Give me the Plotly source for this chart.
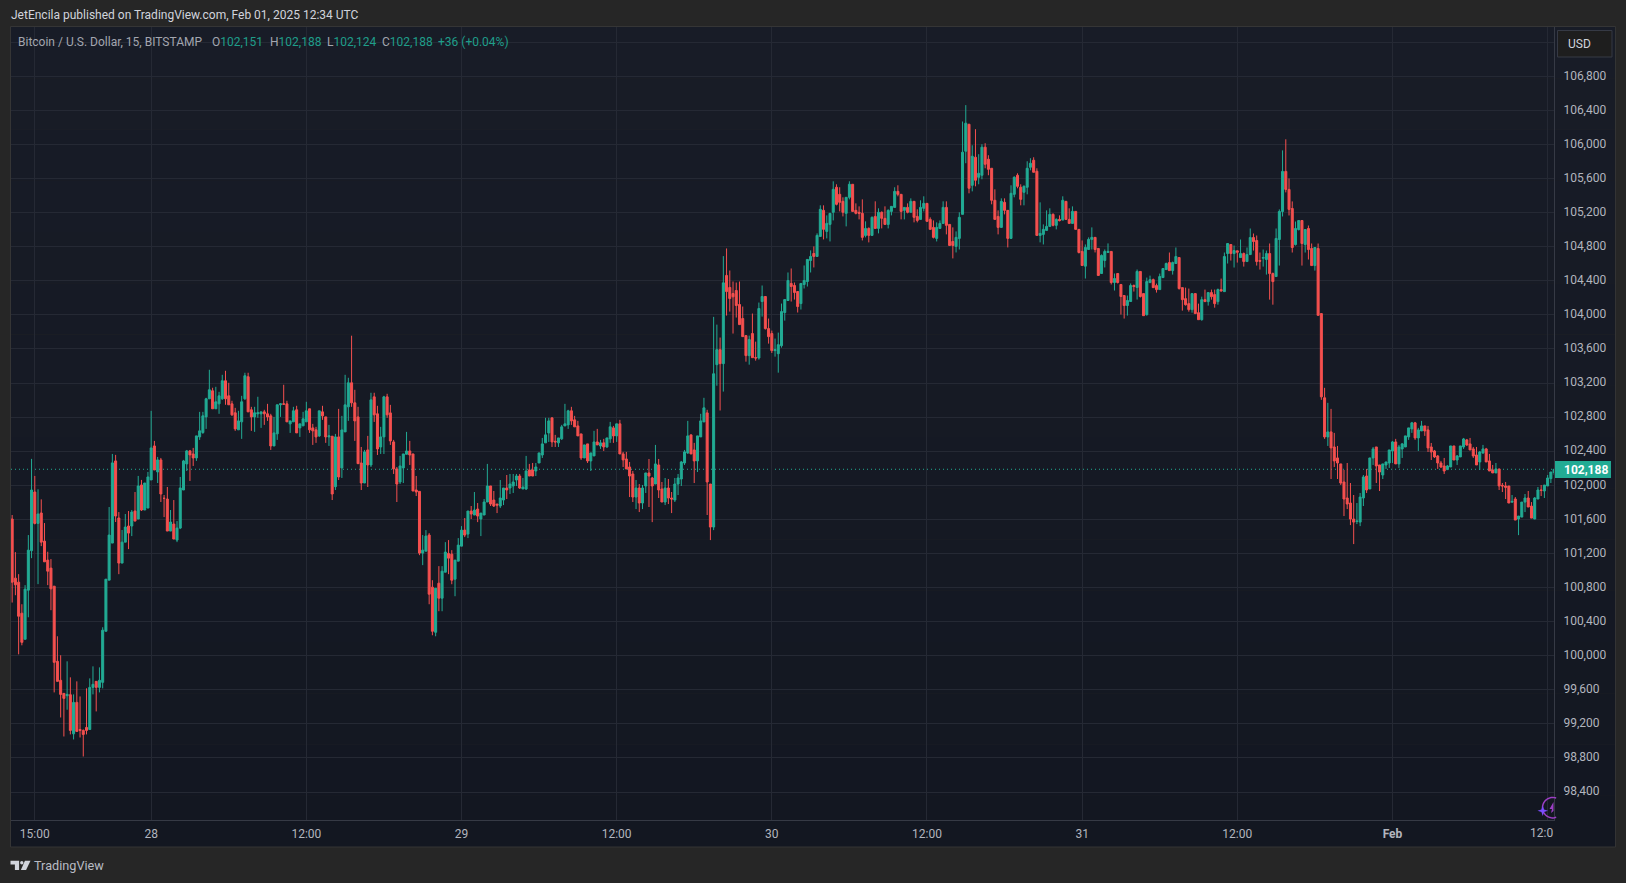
import numpy as np
import pandas as pd
import plotly.graph_objects as go

# BTC/USD 15-minute candles (USD)
opens = [
101604,100910,100863,100499,100193,100769,101232,101921,101553,101675,101345,101122,101028,100816,99934,99711,99558,99530,99542,99083,99452,99134,99123,99158,99134,99628,99699,99628,99687,100287,100887,101322,102286,101616,101087,101333,101522,101522,101698,101604,102004,101710,101733,
102063,102462,102157,102298,101847,101839,101463,101545,101357,101498,101945,102251,102404,102368,102321,102568,102619,102803,103015,103109,102898,102956,103015,103227,103050,102956,102851,102651,102745,103015,103274,102886,102803,102839,102839,102862,102839,102815,102462,102604,102945,102956,102956,102721,102745,102886,102674,102698,102745,102898,102674,102651,102580,
102862,102803,102568,102576,101984,102568,102204,102627,102921,103203,102968,102803,102262,102027,102415,102239,103038,102839,102450,102568,103038,102850,102509,102192,102039,102204,102364,102403,102368,101945,101929,101204,101227,101416,100804,100275,100851,100675,100980,101200,101192,100898,101110,101286,101474,101427,101698,101651,101721,101604,101651,101804,101992,101827,101780,101757,101827,101968,101968,101992,102062,102109,101957,101957,102180,102180,102168,102262,102356,102498,102615,102792,102517,102498,102545,102697,102709,102874,102768,102697,102603,102321,102486,102286,102345,102509,102462,102498,102450,102545,102674,102580,102721,102368,102309,102215,102133,101862,101968,101792,101992,102145,102086,102015,102239,101957,101804,101968,101851,101827,102015,102074,102262,102380,102592,102415,102286,102568,102744,102850,102015,101510,
103416,103592,103428,104463,104322,104251,104286,104122,103957,103757,103522,103781,103498,103494,104157,104216,103839,103781,103581,103545,103639,104028,104169,104369,104345,104274,104133,104357,104392,104639,104721,104686,104921,105227,104980,105062,105204,105498,105415,105333,105192,105380,105533,105227,105204,105192,104933,105015,104933,105156,105015,105204,105133,105062,105215,105262,105450,105415,105227,105262,105204,105333,105156,105121,105251,105309,105121,105027,104898,105015,105074,105262,105062,104862,104804,104898,105180,105921,106238,105521,105850,105615,105639,105968,105827,105721,105345,105156,105027,105321,105227,104898,105415,105639,105498,105439,105498,105733,105815,105686,104933,104945,104992,105039,105180,105051,105121,105113,105333,105121,105074,105215,105004,104745,104572,104768,104886,104910,104780,104486,104639,104733,104745,104380,104486,104357,104227,104110,104157,104345,104322,104510,
104250,104003,104379,104414,104344,104297,104438,104532,104614,104520,104603,104673,104320,104191,104132,104062,104250,104026,103944,104179,104156,104262,104238,104156,104297,104273,104720,104826,104720,104752,104673,104720,104626,104708,104908,104873,104638,104665,104650,104720,104485,104450,104885,105214,105684,105473,105249,104826,105002,105108,104826,105014,104779,104579,104779,104015,103027,102568,102627,102450,102321,102251,102039,101851,101792,101604,101576,101568,101851,102109,101957,102321,102450,102239,102121,102239,102262,102403,102509,102251,
102427,102450,102568,102662,102733,102556,102638,102697,102650,102450,102403,102344,102262,102227,102184,102215,102462,102297,102333,102450,102533,102486,102427,102356,102274,102380,102427,102286,102180,102145,102192,101999,101992,101992,101803,101839,101604,101627,101803,101851,101756,101604,101839,101945,101933,101992,102078,102151,
]
highs = [
101651,101216,100957,100604,100828,101416,102310,102110,101953,101835,101557,101220,101134,100816,100228,100005,99558,99934,99746,99546,99699,99522,99134,99617,99734,99875,99699,99863,100334,100898,101745,102368,102357,101686,101475,101663,101698,101710,101921,102110,102063,102027,102157,
102874,102521,102333,102321,101886,101980,101710,101827,101580,102098,102298,102415,102415,102439,102580,102862,102862,103027,103356,103145,103156,103097,103297,103344,103203,102992,102909,102874,103050,103321,103321,102921,102921,103039,102862,102886,102956,102839,102803,102945,102956,103180,102992,102756,102921,102933,102721,102862,102980,102898,102721,102686,102874,
102933,102803,102709,102576,102603,102897,102815,103297,103262,103756,103121,102921,102450,102415,102580,103086,103086,102933,102686,103050,103074,102944,102533,102215,102345,102368,102627,102521,102368,102109,101929,101416,101474,101439,100886,100792,101051,101051,101333,101357,101239,101122,101380,101521,101616,101698,101757,101921,101792,101674,101839,102251,101992,101933,101780,102062,101968,102121,102133,102133,102133,102133,102086,102345,102251,102262,102262,102380,102556,102792,102792,102792,102592,102556,102709,102956,102886,102921,102815,102756,102603,102474,102486,102380,102639,102662,102533,102545,102556,102744,102697,102721,102768,102392,102392,102274,102168,102062,102015,102004,102145,102309,102098,102474,102309,102039,102086,102074,101921,102086,102133,102286,102415,102756,102592,102498,102580,102839,103027,102886,102015,103977,
103886,103734,104690,104780,104521,104392,104380,104392,104098,103757,103757,104016,103686,104145,104345,104216,103957,103816,103722,103792,104133,104180,104498,104545,104380,104274,104369,104580,104651,104757,104804,104957,105286,105286,105168,105192,105568,105533,105498,105380,105380,105568,105533,105309,105274,105356,105098,105027,105156,105333,105251,105215,105274,105239,105274,105498,105521,105415,105262,105309,105368,105333,105239,105345,105392,105309,105145,105109,105086,105109,105333,105333,105062,105027,104980,105204,106270,106462,106238,105991,106180,105886,106003,106015,105874,105721,105474,105227,105368,105368,105227,105521,105627,105662,105533,105521,105803,105839,105850,105721,105321,105062,105227,105251,105192,105133,105168,105392,105333,105251,105274,105215,105004,104874,104827,104910,105027,104910,104780,104710,104768,104839,104745,104486,104486,104357,104227,104227,104369,104357,104533,104510,
104250,104438,104461,104426,104367,104485,104544,104614,104732,104626,104791,104673,104320,104320,104309,104250,104250,104132,104214,104297,104262,104297,104297,104309,104426,104732,104838,104826,104814,104755,104885,104732,104791,105014,104955,104932,104732,104767,104755,104838,104497,105014,105238,105931,106061,105602,105332,105096,105108,105108,105002,105049,104838,104791,104838,104015,103144,102968,102897,102615,102462,102251,102180,102262,102027,101886,101792,101910,102121,102192,102321,102450,102450,102239,102251,102274,102415,102521,102545,102474,
102497,102580,102674,102744,102744,102674,102756,102697,102697,102497,102415,102356,102286,102321,102239,102462,102462,102356,102462,102556,102544,102556,102450,102450,102403,102474,102439,102368,102239,102262,102192,102027,102039,101992,101886,101862,101639,101803,101898,101933,101803,101862,101980,102003,102003,102121,102156,102188,
]
lows = [
100624,100710,100016,100122,100193,100451,101145,101541,100840,101286,101102,100828,100534,99569,99699,99275,99052,99366,99076,99017,99111,99040,98817,99076,99134,99546,99346,99569,99617,100287,100887,101322,101569,100957,101087,101333,101251,101404,101580,101604,101698,101710,101733,
102063,102180,102027,101804,101627,101463,101463,101369,101333,101486,101945,102168,102051,102227,102286,102533,102604,102662,103015,102898,102898,102839,103003,102945,102945,102815,102639,102651,102545,103003,102862,102639,102627,102792,102674,102709,102756,102415,102462,102533,102803,102945,102745,102615,102745,102615,102568,102698,102745,102615,102474,102498,102568,
102768,102498,102462,101827,101945,102062,102086,102627,102756,102921,102521,102254,101945,102027,101980,102215,102744,102356,102368,102368,102792,102474,102133,101804,102015,102027,102364,102239,101933,101874,101180,101063,101227,100604,100240,100228,100522,100522,100980,100957,100839,100698,101110,101286,101392,101380,101604,101651,101568,101404,101651,101804,101757,101745,101674,101733,101768,101839,101898,101910,101992,101957,101957,101945,102109,102109,102109,102262,102321,102498,102509,102450,102450,102450,102533,102697,102662,102709,102686,102580,102298,102321,102262,102168,102345,102474,102427,102403,102439,102498,102498,102509,102368,102215,102192,101862,101804,101721,101686,101721,101910,101745,101568,102015,101851,101804,101768,101780,101674,101804,101886,101992,102239,102368,102368,102027,102156,102568,102744,101651,101357,101474,
103169,102878,103100,103992,104039,103781,103969,103886,103745,103451,103416,103498,103463,103475,103980,103828,103663,103553,103510,103322,103616,103933,104169,104157,104180,104028,104063,104310,104333,104498,104557,104686,104921,104886,104898,104862,105109,105286,105215,105156,105039,105356,105215,105180,105121,104874,104910,104851,104933,105015,104957,105015,105062,105015,105168,105262,105392,105121,105121,105192,105204,105086,105086,105121,105215,105098,105004,104898,104862,105015,105074,104945,104815,104663,104733,104768,105180,105780,105427,105450,105509,105533,105592,105721,105639,105298,105121,104945,105027,105180,104792,104898,105380,105486,105286,105286,105415,105697,105674,104933,104851,104827,104992,105039,105039,105004,105098,105113,105121,105074,105074,105004,104721,104580,104427,104768,104768,104733,104463,104486,104557,104733,104357,104286,104369,104004,103957,103992,104157,104274,104180,104204,
103991,103991,104379,104320,104262,104297,104438,104532,104520,104473,104603,104297,104050,104109,104038,104026,104015,103944,103932,104156,104109,104179,104085,104120,104273,104273,104603,104638,104556,104614,104673,104567,104626,104708,104755,104579,104532,104567,104473,104179,104120,104450,104579,105155,105438,105167,104732,104814,104991,104579,104732,104650,104579,104520,103995,103003,102545,102462,102074,102215,102074,102004,101639,101721,101533,101310,101545,101521,101757,101910,101957,102239,102027,101933,102074,102192,102204,102262,102251,102204,
102321,102450,102533,102615,102533,102403,102638,102580,102391,102297,102321,102192,102203,102133,102184,102215,102297,102239,102333,102427,102462,102415,102321,102239,102180,102368,102274,102168,102145,102145,101945,101921,101839,101792,101792,101592,101415,101627,101686,101745,101615,101604,101839,101874,101851,101992,102027,102124,
]
closes = [
100863,100832,100463,100157,100781,101239,101945,101553,101663,101333,101102,100992,100785,99922,99699,99546,99499,99546,99123,99452,99111,99123,99076,99123,99628,99664,99628,99711,100299,100898,101416,102263,101639,101087,101333,101510,101439,101686,101580,101992,101710,102027,102098,
102439,102180,102298,101898,101847,101463,101569,101369,101498,101969,102286,102404,102357,102321,102580,102639,102815,103015,103121,102898,102980,103050,103227,103015,102945,102827,102662,102756,102980,103286,102862,102803,102851,102851,102862,102839,102803,102462,102615,102945,102956,102952,102745,102756,102874,102615,102721,102780,102874,102651,102639,102568,102874,
102815,102568,102580,101898,102568,102098,102650,102944,103203,102968,102756,102254,102027,102392,102239,103003,102827,102427,102568,103038,102827,102521,102192,102015,102227,102368,102403,102356,101933,101921,101204,101239,101404,100722,100287,100792,100675,100992,101216,101145,100886,101122,101298,101474,101416,101698,101663,101710,101639,101674,101804,101992,101780,101757,101768,101851,101968,101945,102015,102039,102109,101968,101980,102168,102109,102109,102215,102380,102486,102592,102756,102509,102509,102556,102686,102721,102874,102756,102686,102580,102321,102474,102286,102380,102509,102474,102498,102450,102556,102686,102580,102721,102368,102298,102192,102109,101862,101968,101792,101968,102145,102109,101992,102251,101945,101804,101968,101851,101839,102015,102086,102274,102392,102580,102368,102286,102580,102756,102909,102039,101510,103309,
103592,103428,104376,104274,104192,104212,104110,103886,103745,103522,103710,103498,103494,104075,104216,103839,103745,103581,103592,103651,104039,104180,104404,104333,104263,104098,104369,104404,104651,104686,104686,104933,105239,105004,105074,105192,105474,105298,105321,105204,105380,105533,105215,105192,105192,104910,105015,104933,105145,105015,105204,105133,105062,105227,105274,105450,105415,105215,105262,105204,105333,105145,105109,105262,105309,105098,105004,104910,105027,105074,105262,105051,104815,104815,104910,105145,105909,106250,105486,105862,105580,105662,105968,105768,105709,105345,105121,105027,105333,105227,104898,105427,105615,105509,105356,105509,105721,105780,105674,104933,104957,105004,105039,105180,105051,105121,105106,105345,105121,105074,105215,105004,104733,104580,104792,104886,104910,104768,104463,104698,104745,104745,104380,104427,104380,104216,104110,104169,104345,104333,104510,104216,
103991,104391,104414,104320,104297,104450,104544,104603,104520,104614,104685,104309,104179,104120,104062,104250,104015,103944,104179,104156,104262,104214,104132,104297,104281,104685,104838,104720,104755,104736,104720,104626,104708,104908,104861,104626,104630,104673,104720,104485,104391,104897,105214,105684,105473,105238,104791,105014,105108,104838,105002,104767,104579,104791,103995,103038,102568,102627,102439,102286,102262,102027,101839,101780,101604,101568,101580,101862,102098,101945,102321,102427,102227,102156,102251,102274,102415,102509,102251,102450,
102486,102580,102674,102733,102556,102650,102697,102638,102439,102391,102333,102262,102215,102168,102227,102462,102297,102344,102462,102544,102474,102415,102344,102239,102391,102427,102274,102168,102145,102192,101992,101992,101976,101792,101811,101592,101639,101803,101851,101745,101615,101851,101945,101941,102003,102086,102156,102188,
]

first_bar = "2025-01-27 13:15"
bar_minutes = 15
last_price = 102188

price_ticks = [107200, 106800, 106400, 106000, 105600, 105200, 104800, 104400, 104000, 103600, 103200,
               102800, 102400, 102000, 101600, 101200, 100800, 100400, 100000, 99600, 99200, 98800, 98400]
price_labels = ["", "106,800", "106,400", "106,000", "105,600", "105,200", "104,800", "104,400", "104,000",
                "103,600", "103,200", "102,800", "102,400", "102,000", "101,600", "101,200", "100,800",
                "100,400", "100,000", "99,600", "99,200", "98,800", "98,400"]
time_ticks = ["2025-01-27 15:00", "2025-01-28 00:00", "2025-01-28 12:00", "2025-01-29 00:00", "2025-01-29 12:00",
              "2025-01-30 00:00", "2025-01-30 12:00", "2025-01-31 00:00", "2025-01-31 12:00", "2025-02-01 00:00",
              "2025-02-01 12:00"]
time_labels = ["15:00", "28", "12:00", "29", "12:00", "30", "12:00", "31", "12:00", "<b>Feb</b>", ""]

# layout geometry, in page pixels
W, H = 1626, 883
L, R, T, B = 10.5, 1554.0, 27.0, 820.0
px = lambda x: (x - L) / (R - L)
py = lambda y: (B - y) / (B - T)

FONT = "Roboto"
OUTER = "#262626"
GRID = "#252934"
AXIS = "#363a45"
UP = "#22ab94"
DOWN = "#f5504f"
TXT = "#b2b5be"

times = pd.date_range(first_bar, periods=len(closes), freq=f"{bar_minutes}min")
t0 = times[0]
x_range = [t0 + pd.Timedelta(minutes=bar_minutes * -0.36), t0 + pd.Timedelta(minutes=bar_minutes * 476.97)]
y_low = 102000 - (B - 485.3) / 0.0852
y_high = 102000 + (485.3 - T) / 0.0852

fig = go.Figure(go.Candlestick(
    x=times, open=opens, high=highs, low=lows, close=closes,
    increasing=dict(line=dict(color=UP, width=1), fillcolor=UP),
    decreasing=dict(line=dict(color=DOWN, width=1), fillcolor=DOWN),
    whiskerwidth=0, hoverinfo="skip", showlegend=False,
))

shapes = []
# panel with its faint vertical gradient
n_strips = 16
c0, c1 = np.array([24, 28, 39]), np.array([19, 23, 33])
for k in range(n_strips):
    y0 = T + (847 - T) * k / n_strips
    y1 = T + (847 - T) * (k + 1) / n_strips
    c = c0 + (c1 - c0) * (k + 0.5) / n_strips
    shapes.append(dict(type="rect", xref="paper", yref="paper", x0=px(L), x1=px(1615.5), y0=py(y0), y1=py(y1),
                       fillcolor=f"rgb({c[0]:.0f},{c[1]:.0f},{c[2]:.0f})", line=dict(width=0), layer="below"))
shapes.append(dict(type="rect", xref="paper", yref="paper", x0=px(L - 0.5), x1=px(1615.5), y0=py(T - 0.5), y1=py(847),
                   line=dict(color="#353535", width=1), layer="below"))
# last price line
shapes.append(dict(type="line", xref="paper", yref="y", x0=0, x1=1, y0=last_price, y1=last_price,
                   line=dict(color=UP, width=1, dash="1px,3px"), layer="between"))
# last price tag and currency box
shapes.append(dict(type="rect", xref="paper", yref="paper", x0=px(1555), x1=px(1611), y0=py(461), y1=py(478),
                   fillcolor=UP, line=dict(width=0)))
shapes.append(dict(type="rect", xref="paper", yref="paper", x0=px(1557.5), x1=px(1612), y0=py(30.5), y1=py(57),
                   fillcolor="#1e1e1e", line=dict(color="#363a45", width=1)))


def poly(points, close=True):
    d = " ".join(("M" if i == 0 else "L") + f"{px(a):.6f},{py(b):.6f}" for i, (a, b) in enumerate(points))
    return d + (" Z" if close else "")


# purple badge, cut by the price axis
ang = np.radians(np.linspace(70, 290, 40))
ring = [(1552.7 + 10.2 * np.cos(a), 807.7 - 10.2 * np.sin(a)) for a in ang]
shapes.append(dict(type="path", xref="paper", yref="paper", path=poly(ring, close=False),
                   line=dict(color="#9c3fc4", width=1.5)))
shapes.append(dict(type="path", xref="paper", yref="paper",
                   path=poly([(1553.5, 802), (1549.5, 809), (1552, 809), (1551, 813), (1553.5, 811)]),
                   fillcolor="#9c3fc4", line=dict(width=0)))
shapes.append(dict(type="path", xref="paper", yref="paper",
                   path=poly([(1542.7, 805.5), (1544, 809.5), (1548, 810.7), (1544, 812), (1542.7, 816),
                              (1541.4, 812), (1537.5, 810.7), (1541.4, 809.5)]),
                   fillcolor="#7c4dff", line=dict(width=0)))
# TradingView mark in the footer
LOGO = "#d1d4dc"
shapes.append(dict(type="path", xref="paper", yref="paper",
                   path=poly([(10, 860.7), (18.6, 860.7), (18.6, 870), (14.4, 870), (14.4, 864.6), (10, 864.6)]),
                   fillcolor=LOGO, line=dict(width=0)))
shapes.append(dict(type="circle", xref="paper", yref="paper", x0=px(19.6), x1=px(23), y0=py(864.4), y1=py(861),
                   fillcolor=LOGO, line=dict(width=0)))
shapes.append(dict(type="path", xref="paper", yref="paper",
                   path=poly([(24.4, 860.7), (30, 860.7), (25.6, 870), (20.4, 870)]),
                   fillcolor=LOGO, line=dict(width=0)))


def label(x, y, text, color=TXT, size=12, anchor="left"):
    return dict(xref="paper", yref="paper", x=px(x), y=py(y), text=text, showarrow=False, xanchor=anchor,
                yanchor="middle", font=dict(family=FONT, size=size, color=color), borderpad=0)


LEG = "#a3a6af"
TEAL = "#1f9e8a"
annotations = [
    label(9.5, 14.5, "JetEncila published on TradingView.com, Feb 01, 2025 12:34 UTC", color="#d1d4dc"),
    label(17, 42, "Bitcoin / U.S. Dollar, 15, BITSTAMP", color=LEG),
    label(211, 42, f'O<span style="color:{TEAL}">102,151</span>', color=LEG),
    label(269, 42, f'H<span style="color:{TEAL}">102,188</span>', color=LEG),
    label(326, 42, f'L<span style="color:{TEAL}">102,124</span>', color=LEG),
    label(381, 42, f'C<span style="color:{TEAL}">102,188</span>', color=LEG),
    label(437, 42, "+36 (+0.04%)", color=TEAL),
    label(1563, 469.5, "<b>102,188</b>", color="#ffffff"),
    label(1567, 44.5, "USD", color="#d1d4dc"),
    label(1554, 833, "12:0", anchor="right"),
    label(33, 865, "TradingView", color="#b8bbc4", size=12.7),
]

fig.update_layout(
    width=W, height=H, autosize=False,
    margin=dict(l=L, r=W - R, t=T, b=H - B, pad=0),
    paper_bgcolor=OUTER, plot_bgcolor="rgba(0,0,0,0)",
    boxgap=0.115, shapes=shapes, annotations=annotations,
    font=dict(family=FONT, size=12, color=TXT), hovermode=False,
    xaxis=dict(range=x_range, type="date", rangeslider=dict(visible=False), tickmode="array",
               tickvals=time_ticks, ticktext=time_labels, showgrid=True, gridcolor=GRID, gridwidth=1,
               showline=True, linecolor=AXIS, linewidth=1, zeroline=False, ticks="outside", ticklen=3,
               tickcolor="rgba(0,0,0,0)", tickfont=dict(family=FONT, size=12, color=TXT), tickangle=0),
    yaxis=dict(range=[y_low, y_high], side="right", tickmode="array", tickvals=price_ticks, ticktext=price_labels,
               showgrid=True, gridcolor=GRID, gridwidth=1, showline=True, linecolor=AXIS, linewidth=1,
               zeroline=False, ticks="outside", ticklen=6, tickcolor="rgba(0,0,0,0)", ticklabelshift=-1,
               tickfont=dict(family=FONT, size=12, color=TXT)),
)

fig.write_html("out.html", config=dict(displayModeBar=False, staticPlot=True),
               post_script="document.body.style.margin='0';document.body.style.overflow='hidden';")
